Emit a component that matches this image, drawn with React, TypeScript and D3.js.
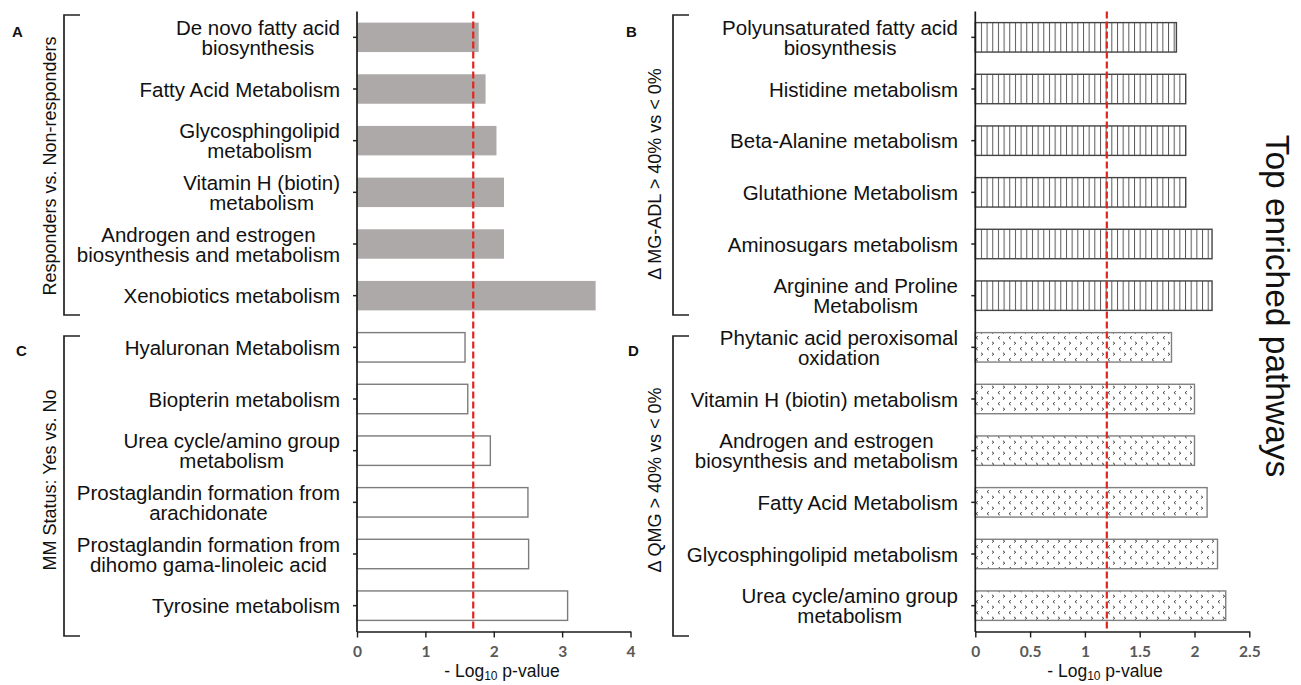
import React, { useEffect, useRef } from 'react';
import * as d3 from 'd3';

// ---------- DATA ----------
const categoriesA = [
  'De novo fatty acid\nbiosynthesis',
  'Fatty Acid Metabolism',
  'Glycosphingolipid\nmetabolism',
  'Vitamin H (biotin)\nmetabolism',
  'Androgen and estrogen\nbiosynthesis and metabolism',
  'Xenobiotics metabolism',
];
const valuesA = [1.78, 1.88, 2.04, 2.15, 2.15, 3.49];

const categoriesC = [
  'Hyaluronan Metabolism',
  'Biopterin metabolism',
  'Urea cycle/amino group\nmetabolism',
  'Prostaglandin formation from\narachidonate',
  'Prostaglandin formation from\ndihomo gama-linoleic acid',
  'Tyrosine metabolism',
];
const valuesC = [1.58, 1.62, 1.95, 2.5, 2.51, 3.08];

const categoriesB = [
  'Polyunsaturated fatty acid\nbiosynthesis',
  'Histidine metabolism',
  'Beta-Alanine metabolism',
  'Glutathione Metabolism',
  'Aminosugars metabolism',
  'Arginine and Proline\nMetabolism',
];
const valuesB = [1.835, 1.92, 1.92, 1.92, 2.16, 2.16];

const categoriesD = [
  'Phytanic acid peroxisomal\noxidation',
  'Vitamin H (biotin) metabolism',
  'Androgen and estrogen\nbiosynthesis and metabolism',
  'Fatty Acid Metabolism',
  'Glycosphingolipid metabolism',
  'Urea cycle/amino group\nmetabolism',
];
const valuesD = [1.79, 2.0, 2.0, 2.115, 2.21, 2.285];

const thresholdLeft = 1.7;
const thresholdRight = 1.2;
const ticksLeft = [0, 1, 2, 3, 4];
const ticksRight = [0, 0.5, 1, 1.5, 2, 2.5];
const domainLeft = [0, 4];
const domainRight = [0, 2.5];

const groupLabels = [
  'Responders vs. Non-responders',
  'MM Status: Yes vs. No',
  '\u0394 MG-ADL > 40% vs < 0%',
  '\u0394 QMG > 40% vs < 0%',
];
const panelLetters = ['A', 'B', 'C', 'D'];
const sideTitle = 'Top enriched pathways';

// ---------- COMPONENT ----------
export default function App() {
  const ref = useRef<SVGSVGElement>(null);

  useEffect(() => {
    document.body.style.margin = '0';
    const svg = d3.select(ref.current!);
    svg.selectAll('*').remove();
    const FONT = "'Liberation Sans', Arial, Helvetica, sans-serif";

    const defs = svg.append('defs');
    const pv = defs
      .append('pattern')
      .attr('id', 'vlines')
      .attr('patternUnits', 'userSpaceOnUse')
      .attr('width', 5.67)
      .attr('height', 10);
    pv.append('rect').attr('width', 5.67).attr('height', 10).attr('fill', '#fff');
    pv.append('line')
      .attr('x1', 0.5).attr('x2', 0.5).attr('y1', 0).attr('y2', 10)
      .attr('stroke', '#5a5a5a').attr('stroke-width', 1);

    const pc = defs
      .append('pattern')
      .attr('id', 'chev')
      .attr('patternUnits', 'userSpaceOnUse')
      .attr('width', 11)
      .attr('height', 11);
    pc.append('rect').attr('width', 11).attr('height', 11).attr('fill', '#fff');
    pc.append('path')
      .attr('d', 'M2,0.8 L3.8,2.2 L2,3.6 M9.8,6.3 L8,7.7 L9.8,9.1')
      .attr('fill', 'none')
      .attr('stroke', '#2a2a2a')
      .attr('stroke-width', 0.9);

    const y = d3
      .scaleBand<number>()
      .domain(d3.range(12))
      .range([11.5, 631.5])
      .paddingInner(0.43)
      .paddingOuter(0.215);

    const panels = [
      {
        x: d3.scaleLinear().domain(domainLeft).range([357, 630.5]),
        ticks: ticksLeft,
        thr: thresholdLeft,
        labelRight: 340,
        titleX: 502,
        top: { cats: categoriesA, vals: valuesA, fill: '#ada9a8', stroke: 'none' },
        bottom: { cats: categoriesC, vals: valuesC, fill: '#fff', stroke: '#7c7c7c' },
      },
      {
        x: d3.scaleLinear().domain(domainRight).range([975.3, 1249.3]),
        ticks: ticksRight,
        thr: thresholdRight,
        labelRight: 958,
        titleX: 1105,
        top: { cats: categoriesB, vals: valuesB, fill: 'url(#vlines)', stroke: '#444' },
        bottom: { cats: categoriesD, vals: valuesD, fill: 'url(#chev)', stroke: '#808080' },
      },
    ];

    panels.forEach((p) => {
      const g = svg.append('g');
      const x0 = p.x(0);
      const rows = [
        ...p.top.cats.map((c, i) => ({ cat: c, val: p.top.vals[i], fill: p.top.fill, stroke: p.top.stroke })),
        ...p.bottom.cats.map((c, i) => ({ cat: c, val: p.bottom.vals[i], fill: p.bottom.fill, stroke: p.bottom.stroke })),
      ];

      // bars
      g.selectAll('rect.bar')
        .data(rows)
        .join('rect')
        .attr('class', 'bar')
        .attr('x', x0)
        .attr('y', (_d, i) => y(i)!)
        .attr('width', (d) => p.x(d.val) - x0)
        .attr('height', y.bandwidth())
        .attr('fill', (d) => d.fill)
        .attr('stroke', (d) => d.stroke)
        .attr('stroke-width', 1.4);

      // category tick marks
      g.selectAll('line.ytick')
        .data(rows)
        .join('line')
        .attr('x1', x0 - 4)
        .attr('x2', x0)
        .attr('y1', (_d, i) => y(i)! + y.bandwidth() / 2)
        .attr('y2', (_d, i) => y(i)! + y.bandwidth() / 2)
        .attr('stroke', '#222')
        .attr('stroke-width', 1.5);

      // y axis line
      g.append('line')
        .attr('x1', x0).attr('x2', x0)
        .attr('y1', 11.5).attr('y2', 632)
        .attr('stroke', '#1a1a1a').attr('stroke-width', 1.7);

      // x axis
      const xa = g
        .append('g')
        .attr('transform', 'translate(0,631.5)')
        .call(
          d3
            .axisBottom(p.x)
            .tickValues(p.ticks)
            .tickSize(6)
            .tickSizeOuter(0)
            .tickFormat((d) => String(d))
        );
      xa.select('.domain').attr('stroke', '#1a1a1a').attr('stroke-width', 1.7);
      xa.selectAll('.tick line').attr('stroke', '#1a1a1a').attr('stroke-width', 1.4);
      xa.selectAll('.tick text')
        .attr('y', 20)
        .attr('dy', '0.35em')
        .attr('fill', '#595959')
        .style('font-family', "Lato, 'Open Sans', sans-serif")
        .style('font-weight', '700')
        .style('font-size', '15.5px');

      // threshold
      g.append('line')
        .attr('x1', p.x(p.thr)).attr('x2', p.x(p.thr))
        .attr('y1', 11.5).attr('y2', 631.5)
        .attr('stroke', '#e3231d')
        .attr('stroke-width', 2.2)
        .attr('stroke-dasharray', '7,3');

      // axis title
      const t = g
        .append('text')
        .attr('x', p.titleX)
        .attr('y', 677)
        .attr('text-anchor', 'middle')
        .style('font-family', FONT)
        .style('font-size', '17.5px')
        .attr('fill', '#111');
      t.append('tspan').text('- Log');
      t.append('tspan').attr('dy', 3).style('font-size', '12px').text('10');
      t.append('tspan').attr('dy', -3).text(' p-value');

      // category labels
      rows.forEach((r, i) => {
        const lines = r.cat.split('\n');
        const cy = y(i)! + y.bandwidth() / 2;
        const lg = g.append('g');
        const txt = lg
          .append('text')
          .attr('text-anchor', 'middle')
          .style('font-family', FONT)
          .style('font-size', '20.5px')
          .attr('fill', '#111');
        lines.forEach((ln, k) => {
          txt
            .append('tspan')
            .attr('x', 0)
            .attr('y', 7.5 + (k - (lines.length - 1) / 2) * 20)
            .text(ln);
        });
        const w = (txt.node() as SVGTextElement).getBBox().width;
        lg.attr('transform', `translate(${p.labelRight - w / 2},${cy})`);
      });
    });

    // brackets
    const brackets = [
      { x: 64, y1: 15, y2: 315 },
      { x: 64, y1: 336, y2: 636 },
      { x: 673, y1: 15, y2: 315 },
      { x: 673, y1: 336, y2: 636 },
    ];
    svg
      .selectAll('path.br')
      .data(brackets)
      .join('path')
      .attr('d', (b) => `M${b.x + 16},${b.y1} L${b.x},${b.y1} L${b.x},${b.y2} L${b.x + 16},${b.y2}`)
      .attr('fill', 'none')
      .attr('stroke', '#222')
      .attr('stroke-width', 1.7);

    // group labels
    const glPos = [
      { x: 56, y: 166 },
      { x: 56, y: 480 },
      { x: 661, y: 174 },
      { x: 661, y: 480 },
    ];
    groupLabels.forEach((l, i) => {
      svg
        .append('text')
        .attr('transform', `translate(${glPos[i].x},${glPos[i].y}) rotate(-90)`)
        .attr('text-anchor', 'middle')
        .style('font-family', FONT)
        .style('font-size', '18px')
        .attr('fill', '#111')
        .text(l);
    });

    // panel letters
    const letterPos = [
      { x: 12, y: 37 },
      { x: 626, y: 37 },
      { x: 16, y: 356 },
      { x: 628, y: 356 },
    ];
    panelLetters.forEach((l, i) => {
      svg
        .append('text')
        .attr('x', letterPos[i].x)
        .attr('y', letterPos[i].y)
        .style('font-family', FONT)
        .style('font-weight', '700')
        .style('font-size', '15px')
        .attr('fill', '#111')
        .text(l);
    });

    // side title
    svg
      .append('text')
      .attr('transform', 'translate(1266,306) rotate(90)')
      .attr('text-anchor', 'middle')
      .style('font-family', FONT)
      .style('font-size', '33.5px')
      .attr('fill', '#111')
      .text(sideTitle);
  }, []);

  return (
    <svg
      ref={ref}
      width={1301}
      height={685}
      style={{ position: 'absolute', left: 0, top: 0, background: '#fff' }}
    />
  );
}
